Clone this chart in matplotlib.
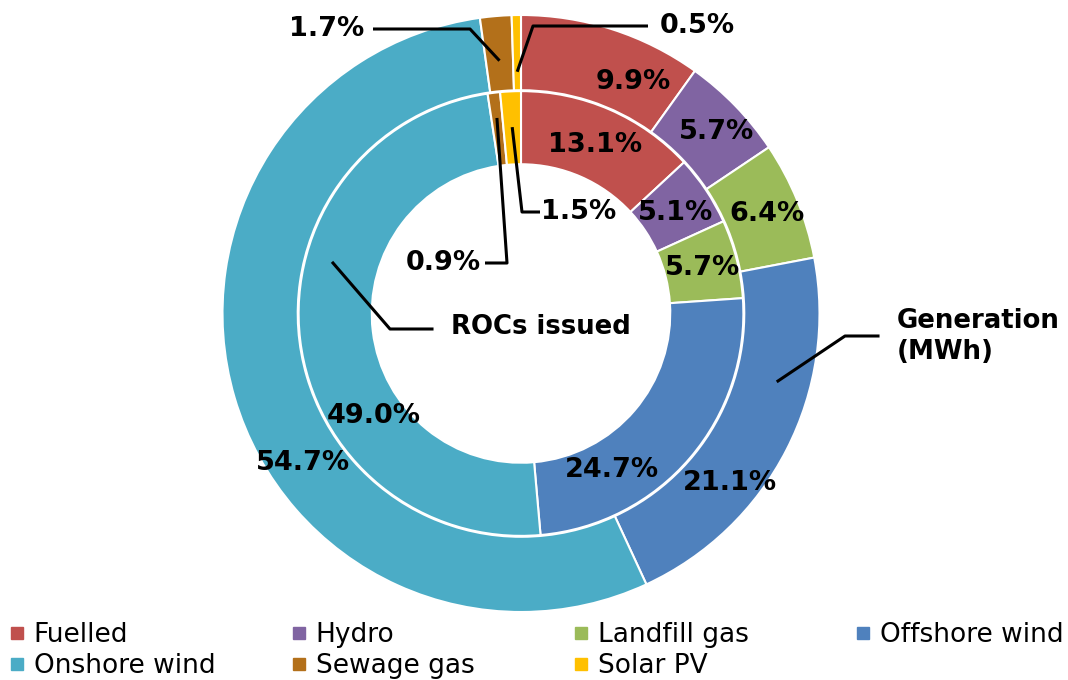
import numpy as np
import matplotlib.pyplot as plt
from matplotlib.lines import Line2D

# data
categories = ['Fuelled', 'Hydro', 'Landfill gas', 'Offshore wind',
              'Onshore wind', 'Sewage gas', 'Solar PV']
generation_pct = [9.9, 5.7, 6.4, 21.1, 54.7, 1.7, 0.5]
rocs_pct = [13.1, 5.1, 5.7, 24.7, 49.0, 0.9, 1.5]
colors = ['#C0504D', '#8064A2', '#9BBB59', '#4F81BD',
          '#4BACC6', '#B3701A', '#FFC000']

# layout (pixels)
W, H = 1068, 680
CX, CY, R = 521, 313.5, 298.5


def px(x, y):
    return (x - CX) / R, (CY - y) / R


fig = plt.figure(figsize=(W / 100, H / 100), dpi=100)
ax = fig.add_axes([0, 0, 1, 1])

outer, _ = ax.pie(generation_pct, radius=1.0, colors=colors, startangle=90,
                  counterclock=False,
                  wedgeprops=dict(width=0.252, edgecolor='white', linewidth=1.5))
inner, _ = ax.pie(rocs_pct, radius=0.745, colors=colors, startangle=90,
                  counterclock=False,
                  wedgeprops=dict(width=0.245, edgecolor='white', linewidth=1.5))

ax.set_xlim(px(0, 0)[0], px(W, 0)[0])
ax.set_ylim(px(0, H)[1], px(0, 0)[1])
ax.set_aspect('auto')
ax.axis('off')

lab = dict(fontsize=19.5, fontweight='bold', color='black')


def mid(w, r=None):
    a = np.deg2rad((w.theta1 + w.theta2) / 2)
    if r is None:
        r = w.r - w.width / 2
    return r * np.cos(a), r * np.sin(a)


# labels placed in the ring, with pixel nudges (None -> leader line)
outer_nudge = [(32, 17), (8, 0), (5, 0), (-23, 50), (32, 76), None, None]
inner_nudge = [(0, 2), (0, 2), (1, 0), (-50, 36), (37, 80), None, None]

for wedges, vals, nudges in [(outer, generation_pct, outer_nudge),
                             (inner, rocs_pct, inner_nudge)]:
    for w, v, n in zip(wedges, vals, nudges):
        if n is None:
            continue
        x, y = mid(w)
        ax.text(x + n[0] / R, y - n[1] / R, f'{v:.1f}%', ha='center', va='center', **lab)

# leader lines for the thin slices:
# (wedge, value, start radius, elbow px, end px, text x px, ha)
leaders = [
    (outer[5], generation_pct[5], 0.85, (470, 29), (373, 29), 364, 'right'),
    (outer[6], generation_pct[6], 0.81, (533, 26), (648, 26), 660, 'left'),
    (inner[5], rocs_pct[5], 0.66, (507, 263), (485, 263), 481, 'right'),
    (inner[6], rocs_pct[6], 0.625, (522, 212), (540, 212), 541, 'left'),
]
for w, v, r0, elbow, end, tx, ha in leaders:
    x0, y0 = mid(w, r0)
    ex, ey = px(*elbow)
    fx, fy = px(*end)
    ax.plot([x0, ex, fx], [y0, ey, fy], color='black', lw=2.2, solid_capstyle='butt')
    ax.text(px(tx, end[1])[0], fy, f'{v:.1f}%', ha=ha, va='center', **lab)

# series name labels
ser = dict(fontsize=18.7, fontweight='bold', color='black')
pts = [px(333, 263), px(390, 329), px(432, 329)]
ax.plot(*zip(*pts), color='black', lw=2.2)
ax.text(*px(451, 327), 'ROCs issued', ha='left', va='center', **ser)

pts = [px(778, 381), px(845, 336), px(878, 336)]
ax.plot(*zip(*pts), color='black', lw=2.2)
ax.text(*px(897, 337), 'Generation\n(MWh)', ha='left', va='center',
        linespacing=1.25, **ser)

# legend, one per column
handles = [Line2D([], [], marker='s', linestyle='none', markersize=8,
                  markerfacecolor=c, markeredgecolor=c) for c in colors]
cols = [[0, 4], [1, 5], [2, 6], [3]]
col_x = [10, 292, 574, 856]
for idx, x in zip(cols, col_x):
    fig.legend([handles[i] for i in idx], [categories[i] for i in idx],
               loc='upper left', bbox_to_anchor=(x / W, 1 - 622 / H),
               frameon=False, fontsize=19, borderpad=0, borderaxespad=0,
               handlelength=0.5, handletextpad=0.4, labelspacing=0.2)

fig.savefig('out.png', dpi=100)
